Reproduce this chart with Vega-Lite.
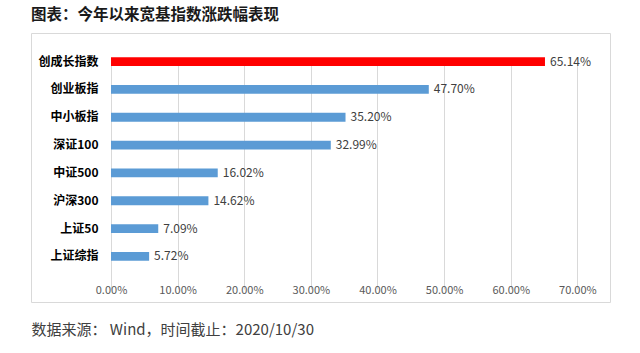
{
  "$schema": "https://vega.github.io/schema/vega-lite/v6.json",
  "width": 579,
  "height": 269,
  "autosize": {"type": "none"},
  "padding": {"left": 31, "top": 33, "right": 30, "bottom": 51},
  "background": "white",
  "title": {
    "text": "图表：今年以来宽基指数涨跌幅表现",
    "anchor": "start",
    "frame": "group",
    "font": "Noto Sans CJK SC",
    "fontSize": 15.5,
    "fontWeight": "bold",
    "color": "#1a1a1a",
    "offset": 10
  },
  "config": {
    "view": {"stroke": "#D9D9D9", "strokeWidth": 1},
    "font": "Noto Sans CJK SC"
  },
  "data": {
    "values": [
      {"name": "创成长指数", "v": 0.6514},
      {"name": "创业板指", "v": 0.4770},
      {"name": "中小板指", "v": 0.3520},
      {"name": "深证100", "v": 0.3299},
      {"name": "中证500", "v": 0.1602},
      {"name": "沪深300", "v": 0.1462},
      {"name": "上证50", "v": 0.0709},
      {"name": "上证综指", "v": 0.0572}
    ]
  },
  "encoding": {
    "y": {
      "field": "name",
      "type": "nominal",
      "sort": null,
      "scale": {"range": [13, 239], "paddingInner": 0.68, "paddingOuter": 0.4},
      "axis": {
        "title": null,
        "domain": false,
        "ticks": false,
        "grid": false,
        "offset": -69,
        "labelPadding": 2,
        "labelFont": "Noto Sans CJK SC",
        "labelFontSize": 12,
        "labelFontWeight": "bold",
        "labelColor": "#000000"
      }
    },
    "x": {
      "field": "v",
      "type": "quantitative",
      "scale": {"domain": [-0.1201, 0.749], "nice": false, "zero": false},
      "axis": {
        "values": [0, 0.1, 0.2, 0.3, 0.4, 0.5, 0.6, 0.7],
        "format": ".2%",
        "domain": false,
        "ticks": false,
        "grid": true,
        "gridColor": "#D9D9D9",
        "gridWidth": 1,
        "offset": -20,
        "labelPadding": 2,
        "labelFont": "Noto Sans CJK SC",
        "labelFontSize": 11,
        "labelColor": "#595959",
        "title": "数据来源： Wind，时间截止：2020/10/30",
        "titleAnchor": "start",
        "titleAlign": "left",
        "titleFont": "Noto Sans CJK SC",
        "titleFontSize": 15,
        "titleFontWeight": "normal",
        "titleColor": "#404040",
        "titlePadding": 27
      }
    }
  },
  "layer": [
    {
      "mark": {"type": "bar"},
      "encoding": {
        "x2": {"datum": 0},
        "color": {
          "condition": {"test": "datum.name === '创成长指数'", "value": "#FF0000"},
          "value": "#5B9BD5"
        }
      }
    },
    {
      "mark": {
        "type": "text",
        "align": "left",
        "baseline": "middle",
        "dx": 5,
        "font": "Noto Sans CJK SC",
        "fontSize": 12,
        "color": "#404040"
      },
      "encoding": {
        "text": {"field": "v", "type": "quantitative", "format": ".2%"}
      }
    }
  ]
}
